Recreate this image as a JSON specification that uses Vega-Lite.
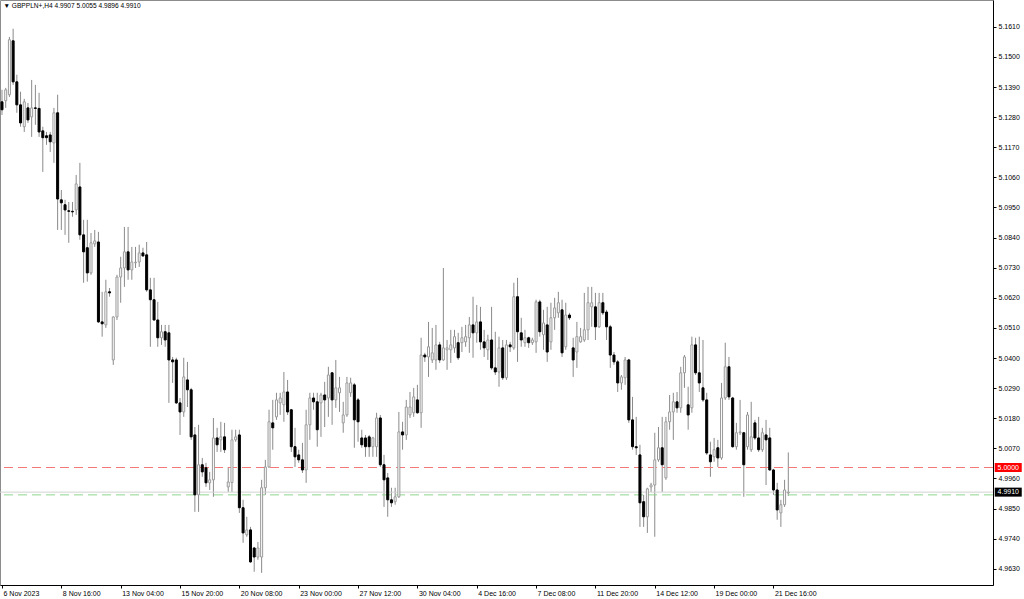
{
  "$schema": "https://vega.github.io/schema/vega-lite/v6.json",
  "width": 993,
  "height": 585,
  "autosize": {"type": "none"},
  "padding": {"left": 0, "top": 0, "right": 31, "bottom": 14},
  "background": "white",
  "config": {
    "view": {"stroke": "#8c8c8c", "strokeWidth": 1},
    "font": "Liberation Sans",
    "axis": {"grid": false, "domainColor": "#000000", "tickColor": "#000000", "labelColor": "#000000", "labelFontSize": 7, "tickSize": 3, "labelFont": "Liberation Sans", "title": null, "labelOverlap": false, "labelFlush": false, "labelBound": false}
  },
  "datasets": {
    "bars": [
      {"i":0,"o":5.1336,"h":5.1380,"l":5.1288,"c":5.1307},
      {"i":1,"o":5.1340,"h":5.1387,"l":5.1314,"c":5.1380},
      {"i":2,"o":5.1362,"h":5.1573,"l":5.1354,"c":5.1563},
      {"i":3,"o":5.1559,"h":5.1603,"l":5.1398,"c":5.1409},
      {"i":4,"o":5.1409,"h":5.1435,"l":5.1296,"c":5.1325},
      {"i":5,"o":5.1325,"h":5.1373,"l":5.1245,"c":5.1259},
      {"i":6,"o":5.1245,"h":5.1347,"l":5.1226,"c":5.1336},
      {"i":7,"o":5.1314,"h":5.1332,"l":5.1259,"c":5.1270},
      {"i":8,"o":5.1281,"h":5.1416,"l":5.1208,"c":5.1314},
      {"i":9,"o":5.1314,"h":5.1398,"l":5.1252,"c":5.1312},
      {"i":10,"o":5.1312,"h":5.1369,"l":5.1208,"c":5.1226},
      {"i":11,"o":5.1230,"h":5.1245,"l":5.1080,"c":5.1205},
      {"i":12,"o":5.1212,"h":5.1226,"l":5.1179,"c":5.1205},
      {"i":13,"o":5.1215,"h":5.1226,"l":5.1153,"c":5.1190},
      {"i":14,"o":5.1186,"h":5.1314,"l":5.1113,"c":5.1296},
      {"i":15,"o":5.1296,"h":5.1362,"l":5.0868,"c":5.0981},
      {"i":16,"o":5.0978,"h":5.1014,"l":5.0868,"c":5.0967},
      {"i":17,"o":5.0960,"h":5.0978,"l":5.0850,"c":5.0941},
      {"i":18,"o":5.0938,"h":5.0970,"l":5.0821,"c":5.0936},
      {"i":19,"o":5.0936,"h":5.0970,"l":5.0916,"c":5.0934},
      {"i":20,"o":5.0941,"h":5.1069,"l":5.0923,"c":5.1036},
      {"i":21,"o":5.1025,"h":5.1113,"l":5.0832,"c":5.0850},
      {"i":22,"o":5.0850,"h":5.0905,"l":5.0675,"c":5.0788},
      {"i":23,"o":5.0803,"h":5.0905,"l":5.0679,"c":5.0711},
      {"i":24,"o":5.0711,"h":5.0857,"l":5.0704,"c":5.0821},
      {"i":25,"o":5.0817,"h":5.0868,"l":5.0806,"c":5.0828},
      {"i":26,"o":5.0824,"h":5.0861,"l":5.0528,"c":5.0532},
      {"i":27,"o":5.0532,"h":5.0642,"l":5.0478,"c":5.0525},
      {"i":28,"o":5.0521,"h":5.0686,"l":5.0510,"c":5.0642},
      {"i":29,"o":5.0642,"h":5.0656,"l":5.0624,"c":5.0638},
      {"i":30,"o":5.0393,"h":5.0552,"l":5.0375,"c":5.0550},
      {"i":31,"o":5.0550,"h":5.0704,"l":5.0539,"c":5.0696},
      {"i":32,"o":5.0696,"h":5.0770,"l":5.0602,"c":5.0729},
      {"i":33,"o":5.0729,"h":5.0879,"l":5.0660,"c":5.0788},
      {"i":34,"o":5.0788,"h":5.0879,"l":5.0686,"c":5.0722},
      {"i":35,"o":5.0722,"h":5.0806,"l":5.0686,"c":5.0751},
      {"i":36,"o":5.0748,"h":5.0806,"l":5.0729,"c":5.0750},
      {"i":37,"o":5.0751,"h":5.0814,"l":5.0733,"c":5.0784},
      {"i":38,"o":5.0784,"h":5.0803,"l":5.0770,"c":5.0773},
      {"i":39,"o":5.0777,"h":5.0824,"l":5.0642,"c":5.0649},
      {"i":40,"o":5.0649,"h":5.0693,"l":5.0441,"c":5.0613},
      {"i":41,"o":5.0613,"h":5.0693,"l":5.0536,"c":5.0539},
      {"i":42,"o":5.0539,"h":5.0605,"l":5.0441,"c":5.0474},
      {"i":43,"o":5.0474,"h":5.0521,"l":5.0448,"c":5.0496},
      {"i":44,"o":5.0496,"h":5.0521,"l":5.0441,"c":5.0466},
      {"i":45,"o":5.0492,"h":5.0521,"l":5.0236,"c":5.0393},
      {"i":46,"o":5.0393,"h":5.0404,"l":5.0309,"c":5.0386},
      {"i":47,"o":5.0393,"h":5.0401,"l":5.0232,"c":5.0236},
      {"i":48,"o":5.0236,"h":5.0254,"l":5.0119,"c":5.0203},
      {"i":49,"o":5.0203,"h":5.0401,"l":5.0185,"c":5.0331},
      {"i":50,"o":5.0320,"h":5.0386,"l":5.0221,"c":5.0284},
      {"i":51,"o":5.0284,"h":5.0291,"l":5.0101,"c":5.0112},
      {"i":52,"o":5.0119,"h":5.0148,"l":4.9838,"c":4.9900},
      {"i":53,"o":4.9900,"h":5.0156,"l":4.9838,"c":5.0010},
      {"i":54,"o":5.0010,"h":5.0035,"l":4.9966,"c":4.9984},
      {"i":55,"o":4.9999,"h":5.0017,"l":4.9929,"c":4.9944},
      {"i":56,"o":4.9944,"h":4.9984,"l":4.9918,"c":4.9955},
      {"i":57,"o":4.9955,"h":5.0181,"l":4.9893,"c":5.0108},
      {"i":58,"o":5.0108,"h":5.0145,"l":5.0057,"c":5.0083},
      {"i":59,"o":5.0101,"h":5.0167,"l":5.0057,"c":5.0112},
      {"i":60,"o":5.0112,"h":5.0163,"l":5.0053,"c":5.0065},
      {"i":61,"o":4.9929,"h":5.0002,"l":4.9911,"c":4.9947},
      {"i":62,"o":4.9945,"h":5.0138,"l":4.9911,"c":5.0101},
      {"i":63,"o":5.0101,"h":5.0138,"l":5.0094,"c":5.0112},
      {"i":64,"o":5.0119,"h":5.0138,"l":4.9834,"c":4.9853},
      {"i":65,"o":4.9853,"h":4.9882,"l":4.9725,"c":4.9761},
      {"i":66,"o":4.9754,"h":4.9820,"l":4.9747,"c":4.9772},
      {"i":67,"o":4.9772,"h":4.9783,"l":4.9652,"c":4.9655},
      {"i":68,"o":4.9706,"h":4.9710,"l":4.9619,"c":4.9673},
      {"i":69,"o":4.9673,"h":4.9728,"l":4.9663,"c":4.9706},
      {"i":70,"o":4.9673,"h":4.9955,"l":4.9615,"c":4.9926},
      {"i":71,"o":4.9926,"h":5.0028,"l":4.9900,"c":5.0002},
      {"i":72,"o":5.0002,"h":5.0211,"l":4.9999,"c":5.0167},
      {"i":73,"o":5.0163,"h":5.0247,"l":5.0065,"c":5.0145},
      {"i":74,"o":5.0185,"h":5.0273,"l":5.0174,"c":5.0247},
      {"i":75,"o":5.0236,"h":5.0273,"l":5.0192,"c":5.0254},
      {"i":76,"o":5.0229,"h":5.0349,"l":5.0167,"c":5.0276},
      {"i":77,"o":5.0276,"h":5.0320,"l":5.0192,"c":5.0203},
      {"i":78,"o":5.0211,"h":5.0214,"l":5.0057,"c":5.0076},
      {"i":79,"o":5.0076,"h":5.0145,"l":5.0002,"c":5.0039},
      {"i":80,"o":5.0046,"h":5.0065,"l":5.0017,"c":5.0028},
      {"i":81,"o":5.0028,"h":5.0090,"l":4.9980,"c":4.9991},
      {"i":82,"o":4.9991,"h":5.0211,"l":4.9944,"c":5.0156},
      {"i":83,"o":5.0156,"h":5.0273,"l":5.0101,"c":5.0254},
      {"i":84,"o":5.0254,"h":5.0273,"l":5.0211,"c":5.0240},
      {"i":85,"o":5.0240,"h":5.0273,"l":5.0076,"c":5.0138},
      {"i":86,"o":5.0236,"h":5.0273,"l":5.0112,"c":5.0265},
      {"i":87,"o":5.0265,"h":5.0313,"l":5.0148,"c":5.0247},
      {"i":88,"o":5.0254,"h":5.0368,"l":5.0185,"c":5.0338},
      {"i":89,"o":5.0346,"h":5.0349,"l":5.0156,"c":5.0247},
      {"i":90,"o":5.0247,"h":5.0393,"l":5.0218,"c":5.0291},
      {"i":91,"o":5.0273,"h":5.0331,"l":5.0203,"c":5.0291},
      {"i":92,"o":5.0163,"h":5.0240,"l":5.0127,"c":5.0192},
      {"i":93,"o":5.0192,"h":5.0331,"l":5.0185,"c":5.0309},
      {"i":94,"o":5.0273,"h":5.0328,"l":5.0258,"c":5.0309},
      {"i":95,"o":5.0302,"h":5.0309,"l":5.0072,"c":5.0174},
      {"i":96,"o":5.0247,"h":5.0254,"l":5.0094,"c":5.0167},
      {"i":97,"o":5.0108,"h":5.0138,"l":5.0072,"c":5.0083},
      {"i":98,"o":5.0108,"h":5.0119,"l":5.0039,"c":5.0076},
      {"i":99,"o":5.0112,"h":5.0119,"l":5.0039,"c":5.0076},
      {"i":100,"o":5.0076,"h":5.0112,"l":5.0039,"c":5.0108},
      {"i":101,"o":5.0076,"h":5.0200,"l":5.0039,"c":5.0181},
      {"i":102,"o":5.0181,"h":5.0192,"l":5.0002,"c":5.0010},
      {"i":103,"o":5.0010,"h":5.0046,"l":4.9856,"c":4.9955},
      {"i":104,"o":4.9962,"h":4.9980,"l":4.9820,"c":4.9882},
      {"i":105,"o":4.9882,"h":4.9926,"l":4.9856,"c":4.9871},
      {"i":106,"o":4.9875,"h":4.9926,"l":4.9864,"c":4.9893},
      {"i":107,"o":4.9893,"h":5.0203,"l":4.9889,"c":5.0130},
      {"i":108,"o":5.0130,"h":5.0167,"l":5.0065,"c":5.0119},
      {"i":109,"o":5.0119,"h":5.0247,"l":5.0101,"c":5.0221},
      {"i":110,"o":5.0192,"h":5.0276,"l":5.0181,"c":5.0221},
      {"i":111,"o":5.0200,"h":5.0291,"l":5.0185,"c":5.0258},
      {"i":112,"o":5.0247,"h":5.0302,"l":5.0196,"c":5.0200},
      {"i":113,"o":5.0200,"h":5.0474,"l":5.0145,"c":5.0411},
      {"i":114,"o":5.0411,"h":5.0419,"l":5.0386,"c":5.0404},
      {"i":115,"o":5.0404,"h":5.0532,"l":5.0331,"c":5.0441},
      {"i":116,"o":5.0393,"h":5.0510,"l":5.0382,"c":5.0419},
      {"i":117,"o":5.0393,"h":5.0521,"l":5.0357,"c":5.0448},
      {"i":118,"o":5.0448,"h":5.0459,"l":5.0382,"c":5.0393},
      {"i":119,"o":5.0393,"h":5.0729,"l":5.0390,"c":5.0437},
      {"i":120,"o":5.0430,"h":5.0466,"l":5.0357,"c":5.0437},
      {"i":121,"o":5.0430,"h":5.0503,"l":5.0382,"c":5.0448},
      {"i":122,"o":5.0437,"h":5.0503,"l":5.0419,"c":5.0478},
      {"i":123,"o":5.0456,"h":5.0492,"l":5.0393,"c":5.0401},
      {"i":124,"o":5.0456,"h":5.0514,"l":5.0422,"c":5.0474},
      {"i":125,"o":5.0459,"h":5.0521,"l":5.0441,"c":5.0478},
      {"i":126,"o":5.0474,"h":5.0550,"l":5.0419,"c":5.0521},
      {"i":127,"o":5.0521,"h":5.0624,"l":5.0401,"c":5.0492},
      {"i":128,"o":5.0492,"h":5.0594,"l":5.0456,"c":5.0532},
      {"i":129,"o":5.0532,"h":5.0587,"l":5.0430,"c":5.0459},
      {"i":130,"o":5.0459,"h":5.0503,"l":5.0404,"c":5.0437},
      {"i":131,"o":5.0430,"h":5.0485,"l":5.0393,"c":5.0466},
      {"i":132,"o":5.0466,"h":5.0587,"l":5.0357,"c":5.0364},
      {"i":133,"o":5.0364,"h":5.0496,"l":5.0338,"c":5.0349},
      {"i":134,"o":5.0349,"h":5.0478,"l":5.0295,"c":5.0437},
      {"i":135,"o":5.0437,"h":5.0466,"l":5.0320,"c":5.0328},
      {"i":136,"o":5.0328,"h":5.0466,"l":5.0320,"c":5.0448},
      {"i":137,"o":5.0448,"h":5.0459,"l":5.0422,"c":5.0441},
      {"i":138,"o":5.0437,"h":5.0675,"l":5.0430,"c":5.0624},
      {"i":139,"o":5.0624,"h":5.0693,"l":5.0386,"c":5.0496},
      {"i":140,"o":5.0492,"h":5.0547,"l":5.0441,"c":5.0466},
      {"i":141,"o":5.0456,"h":5.0503,"l":5.0441,"c":5.0474},
      {"i":142,"o":5.0474,"h":5.0478,"l":5.0437,"c":5.0456},
      {"i":143,"o":5.0456,"h":5.0474,"l":5.0448,"c":5.0466},
      {"i":144,"o":5.0459,"h":5.0613,"l":5.0419,"c":5.0605},
      {"i":145,"o":5.0605,"h":5.0613,"l":5.0478,"c":5.0496},
      {"i":146,"o":5.0485,"h":5.0576,"l":5.0430,"c":5.0528},
      {"i":147,"o":5.0521,"h":5.0587,"l":5.0386,"c":5.0422},
      {"i":148,"o":5.0459,"h":5.0602,"l":5.0430,"c":5.0547},
      {"i":149,"o":5.0547,"h":5.0620,"l":5.0503,"c":5.0583},
      {"i":150,"o":5.0565,"h":5.0642,"l":5.0547,"c":5.0602},
      {"i":151,"o":5.0576,"h":5.0613,"l":5.0404,"c":5.0419},
      {"i":152,"o":5.0441,"h":5.0602,"l":5.0430,"c":5.0557},
      {"i":153,"o":5.0557,"h":5.0565,"l":5.0539,"c":5.0547},
      {"i":154,"o":5.0437,"h":5.0474,"l":5.0331,"c":5.0393},
      {"i":155,"o":5.0422,"h":5.0532,"l":5.0364,"c":5.0478},
      {"i":156,"o":5.0459,"h":5.0510,"l":5.0456,"c":5.0478},
      {"i":157,"o":5.0466,"h":5.0638,"l":5.0459,"c":5.0503},
      {"i":158,"o":5.0503,"h":5.0660,"l":5.0466,"c":5.0602},
      {"i":159,"o":5.0587,"h":5.0660,"l":5.0514,"c":5.0602},
      {"i":160,"o":5.0587,"h":5.0638,"l":5.0466,"c":5.0514},
      {"i":161,"o":5.0514,"h":5.0638,"l":5.0510,"c":5.0602},
      {"i":162,"o":5.0602,"h":5.0638,"l":5.0557,"c":5.0565},
      {"i":163,"o":5.0568,"h":5.0576,"l":5.0466,"c":5.0514},
      {"i":164,"o":5.0514,"h":5.0521,"l":5.0364,"c":5.0411},
      {"i":165,"o":5.0411,"h":5.0422,"l":5.0375,"c":5.0386},
      {"i":166,"o":5.0386,"h":5.0393,"l":5.0276,"c":5.0309},
      {"i":167,"o":5.0309,"h":5.0338,"l":5.0284,"c":5.0331},
      {"i":168,"o":5.0328,"h":5.0404,"l":5.0302,"c":5.0393},
      {"i":169,"o":5.0393,"h":5.0397,"l":5.0163,"c":5.0174},
      {"i":170,"o":5.0174,"h":5.0258,"l":5.0065,"c":5.0076},
      {"i":171,"o":5.0076,"h":5.0185,"l":5.0046,"c":5.0072},
      {"i":172,"o":5.0046,"h":5.0083,"l":4.9783,"c":4.9871},
      {"i":173,"o":4.9875,"h":4.9900,"l":4.9783,"c":4.9820},
      {"i":174,"o":4.9820,"h":4.9926,"l":4.9761,"c":4.9922},
      {"i":175,"o":4.9929,"h":4.9944,"l":4.9911,"c":4.9936},
      {"i":176,"o":4.9936,"h":5.0127,"l":4.9747,"c":5.0028},
      {"i":177,"o":5.0028,"h":5.0148,"l":5.0021,"c":5.0072},
      {"i":178,"o":5.0072,"h":5.0185,"l":4.9911,"c":5.0010},
      {"i":179,"o":4.9962,"h":5.0185,"l":4.9955,"c":5.0167},
      {"i":180,"o":5.0167,"h":5.0265,"l":5.0138,"c":5.0203},
      {"i":181,"o":5.0203,"h":5.0273,"l":5.0101,"c":5.0240},
      {"i":182,"o":5.0240,"h":5.0276,"l":5.0200,"c":5.0218},
      {"i":183,"o":5.0218,"h":5.0368,"l":5.0200,"c":5.0346},
      {"i":184,"o":5.0346,"h":5.0411,"l":5.0291,"c":5.0404},
      {"i":185,"o":5.0229,"h":5.0295,"l":5.0138,"c":5.0192},
      {"i":186,"o":5.0218,"h":5.0478,"l":5.0200,"c":5.0448},
      {"i":187,"o":5.0448,"h":5.0474,"l":5.0338,"c":5.0346},
      {"i":188,"o":5.0346,"h":5.0478,"l":5.0276,"c":5.0309},
      {"i":189,"o":5.0291,"h":5.0466,"l":5.0240,"c":5.0247},
      {"i":190,"o":5.0247,"h":5.0273,"l":5.0046,"c":5.0053},
      {"i":191,"o":5.0046,"h":5.0094,"l":4.9966,"c":5.0021},
      {"i":192,"o":5.0039,"h":5.0108,"l":5.0021,"c":5.0065},
      {"i":193,"o":5.0072,"h":5.0101,"l":5.0002,"c":5.0035},
      {"i":194,"o":5.0035,"h":5.0309,"l":5.0028,"c":5.0254},
      {"i":195,"o":5.0254,"h":5.0456,"l":5.0247,"c":5.0368},
      {"i":196,"o":5.0368,"h":5.0404,"l":5.0247,"c":5.0258},
      {"i":197,"o":5.0254,"h":5.0258,"l":5.0072,"c":5.0076},
      {"i":198,"o":5.0076,"h":5.0163,"l":5.0065,"c":5.0127},
      {"i":199,"o":5.0127,"h":5.0247,"l":5.0119,"c":5.0130},
      {"i":200,"o":5.0127,"h":5.0130,"l":4.9893,"c":5.0010},
      {"i":201,"o":5.0076,"h":5.0203,"l":5.0065,"c":5.0192},
      {"i":202,"o":5.0065,"h":5.0240,"l":5.0057,"c":5.0112},
      {"i":203,"o":5.0163,"h":5.0174,"l":5.0101,"c":5.0108},
      {"i":204,"o":5.0108,"h":5.0185,"l":5.0057,"c":5.0065},
      {"i":205,"o":5.0065,"h":5.0145,"l":5.0057,"c":5.0127},
      {"i":206,"o":5.0119,"h":5.0174,"l":4.9936,"c":5.0101},
      {"i":207,"o":5.0108,"h":5.0145,"l":4.9988,"c":4.9991},
      {"i":208,"o":4.9991,"h":4.9995,"l":4.9900,"c":4.9918},
      {"i":209,"o":4.9918,"h":4.9944,"l":4.9809,"c":4.9845},
      {"i":210,"o":4.9834,"h":4.9882,"l":4.9783,"c":4.9864},
      {"i":211,"o":4.9864,"h":4.9955,"l":4.9856,"c":4.9918},
      {"i":212,"o":4.9907,"h":5.0055,"l":4.9896,"c":4.9910}
    ],
    "levels": [
      {"p": 5.0000, "kind": "alert"},
      {"p": 4.9910, "kind": "bid"},
      {"p": 4.9900, "kind": "ask"}
    ],
    "tags": [
      {"p": 5.0000, "txt": "5.0000", "kind": "alert"},
      {"p": 4.9910, "txt": "4.9910", "kind": "bid"}
    ],
    "head": [
      {"txt": "▼ GBPPLN+,H4  4.9907 5.0055 4.9896 4.9910"}
    ]
  },
  "layer": [
    {
      "data": {"name": "bars"},
      "mark": {"type": "rule", "color": "#8a8a8a", "strokeWidth": 1},
      "encoding": {
        "x": {"field": "i", "type": "quantitative", "scale": {"domain": [-0.539, 267.19], "nice": false, "zero": false, "padding": 0},
              "axis": {"values": [0,16,32,48,64,80,96,112,128,144,160,176,192,208], "tickCount": 60, "labelAlign": "left", "labelOffset": 1, "labelPadding": 1, "labelOverlap": false,
                       "labelExpr": "['6 Nov 2023','8 Nov 16:00','13 Nov 04:00','15 Nov 20:00','20 Nov 08:00','23 Nov 00:00','27 Nov 12:00','30 Nov 04:00','4 Dec 16:00','7 Dec 08:00','11 Dec 20:00','14 Dec 12:00','19 Dec 00:00','21 Dec 16:00'][round(datum.value/16)]"},
              "title": null},
        "y": {"field": "l", "type": "quantitative", "scale": {"domain": [4.95707, 5.17081], "nice": false, "zero": false, "padding": 0},
              "axis": {"orient": "right", "values": [4.963,4.974,4.985,4.996,5.007,5.018,5.029,5.04,5.051,5.062,5.073,5.084,5.095,5.106,5.117,5.128,5.139,5.15,5.161], "tickCount": 60, "format": ".4f", "labelPadding": 2, "labelOverlap": false},
              "title": null},
        "y2": {"field": "h"}
      }
    },
    {
      "data": {"name": "levels"},
      "transform": [{"filter": "datum.kind == 'bid'"}],
      "mark": {"type": "rule", "strokeWidth": 1, "color": "#d2d2d2"},
      "encoding": {
        "y": {"field": "p", "type": "quantitative", "title": null}
      }
    },
    {
      "data": {"name": "levels"},
      "transform": [{"filter": "datum.kind == 'ask'"}],
      "mark": {"type": "rule", "strokeWidth": 1, "color": "#8fd68f", "strokeDash": [9, 5]},
      "encoding": {
        "y": {"field": "p", "type": "quantitative", "title": null}
      }
    },
    {
      "data": {"name": "levels"},
      "transform": [{"filter": "datum.kind == 'alert'"}],
      "mark": {"type": "rule", "strokeWidth": 1, "color": "#f57878", "strokeDash": [9, 5]},
      "encoding": {
        "y": {"field": "p", "type": "quantitative", "title": null}
      }
    },
    {
      "data": {"name": "bars"},
      "mark": {"type": "bar", "size": 2, "strokeWidth": 1},
      "encoding": {
        "x": {"field": "i", "type": "quantitative", "title": null},
        "y": {"field": "o", "type": "quantitative", "title": null},
        "y2": {"field": "c"},
        "fill": {"condition": {"test": "datum.c >= datum.o", "value": "#ffffff"}, "value": "#000000"},
        "stroke": {"condition": {"test": "datum.c >= datum.o", "value": "#9a9a9a"}, "value": "#000000"}
      }
    },
    {
      "data": {"name": "tags"},
      "mark": {"type": "rect", "width": 27, "height": 9},
      "encoding": {
        "x": {"datum": 271.3, "type": "quantitative"},
        "y": {"field": "p", "type": "quantitative", "title": null},
        "fill": {"field": "kind", "type": "nominal", "scale": {"domain": ["alert", "bid"], "range": ["#ff0000", "#000000"]}, "legend": null}
      }
    },
    {
      "data": {"name": "tags"},
      "mark": {"type": "text", "color": "#ffffff", "fontSize": 7, "align": "center", "baseline": "middle"},
      "encoding": {
        "x": {"datum": 271.3, "type": "quantitative"},
        "y": {"field": "p", "type": "quantitative", "title": null},
        "text": {"field": "txt"}
      }
    },
    {
      "data": {"name": "head"},
      "mark": {"type": "text", "color": "#000000", "fontSize": 6.6, "align": "left", "baseline": "middle"},
      "encoding": {
        "x": {"datum": 0.4, "type": "quantitative"},
        "y": {"datum": 5.1687, "type": "quantitative"},
        "text": {"field": "txt"}
      }
    }
  ]
}
